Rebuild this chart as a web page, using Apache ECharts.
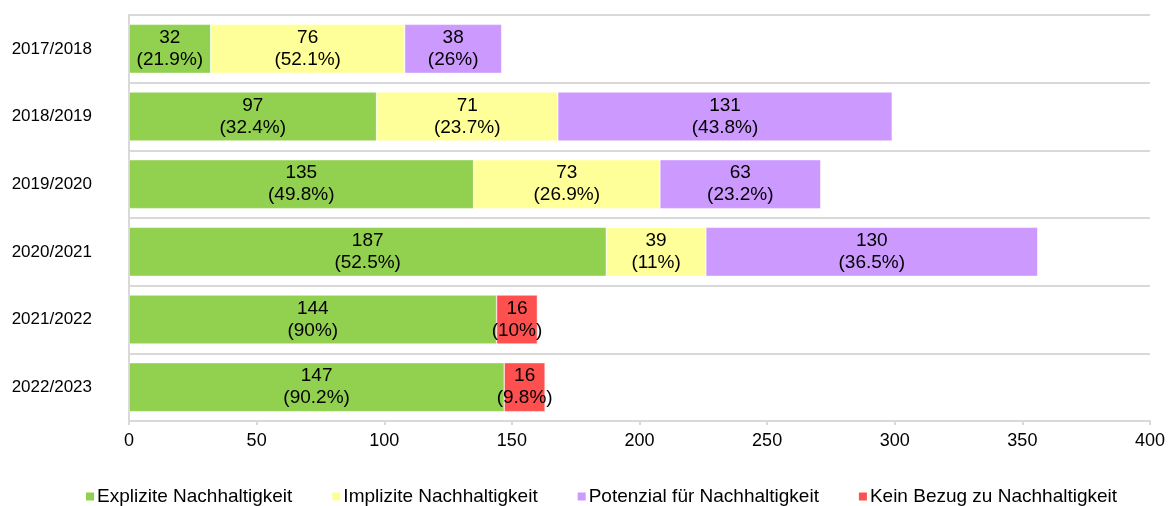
<!DOCTYPE html>
<html>
<head>
<meta charset="utf-8">
<script src="https://cdn.jsdelivr.net/npm/echarts@6/dist/echarts.min.js"></script>
<style>
  html, body { margin: 0; padding: 0; background: #fff; }
  #chart { width: 1169px; height: 506px; }
</style>
</head>
<body>
<div id="chart"></div>
<script>
// Schuljahre (von oben nach unten)
var years = ['2017/2018', '2018/2019', '2019/2020', '2020/2021', '2021/2022', '2022/2023'];

var seriesNames = [
    'Explizite Nachhaltigkeit',
    'Implizite Nachhaltigkeit',
    'Potenzial für Nachhaltigkeit',
    'Kein Bezug zu Nachhaltigkeit'
];

var explizit  = [32, 97, 135, 187, 144, 147];
var implizit  = [76, 71, 73, 39, null, null];
var potenzial = [38, 131, 63, 130, null, null];
var keinBezug = [null, null, null, null, 16, 16];

var colors = ['#92d050', '#ffff99', '#cc99ff', '#ff5050'];

var xTicks = [0, 50, 100, 150, 200, 250, 300, 350, 400];

var allValues = [explizit, implizit, potenzial, keinBezug];

// Summe je Jahr fuer die Prozentwerte
var totals = years.map(function(y, i) {
    var s = 0;
    allValues.forEach(function(arr) { s += arr[i] || 0; });
    return s;
});

function pctLabel(params) {
    var pct = Math.round(params.value / totals[params.dataIndex] * 1000) / 10;
    return params.value + '\n(' + pct + '%)';
}

var chart = echarts.init(document.getElementById('chart'));

var series = allValues.map(function(arr, k) {
    return {
        name: seriesNames[k],
        type: 'bar',
        stack: 'total',
        barWidth: 49,
        data: arr,
        itemStyle: {
            color: colors[k],
            borderColor: '#ffffff',
            borderWidth: 0.5
        },
        label: {
            show: true,
            position: 'inside',
            formatter: pctLabel,
            color: '#000',
            fontFamily: 'Liberation Sans, Arial',
            fontSize: 19,
            lineHeight: 22
        }
    };
});

var option = {
    animation: false,
    backgroundColor: '#fff',
    color: colors,
    grid: {
        left: 129,
        right: 19,
        top: 15,
        bottom: 85
    },
    legend: {
        left: 79,
        top: 482,
        itemWidth: 10,
        itemHeight: 10,
        itemGap: 38,
        icon: 'rect',
        textStyle: {
            color: '#000',
            fontFamily: 'Liberation Sans, Arial',
            fontSize: 19,
            padding: [0, 0, 0, -3]
        },
        data: seriesNames
    },
    xAxis: {
        type: 'value',
        min: xTicks[0],
        max: xTicks[xTicks.length - 1],
        interval: 50,
        splitLine: { show: false },
        axisLine: { show: true, lineStyle: { color: '#d9d9d9', width: 2 } },
        axisTick: { show: true, length: 4, lineStyle: { color: '#d9d9d9', width: 2 } },
        axisLabel: {
            color: '#000',
            fontFamily: 'Liberation Sans, Arial',
            fontSize: 18,
            margin: 11
        }
    },
    yAxis: {
        type: 'category',
        inverse: true,
        data: years,
        axisLine: { show: true, lineStyle: { color: '#d9d9d9', width: 2 } },
        axisTick: { show: false },
        splitLine: { show: true, lineStyle: { color: '#d9d9d9', width: 2 } },
        axisLabel: {
            color: '#000',
            fontFamily: 'Liberation Sans, Arial',
            fontSize: 17,
            margin: 37
        }
    },
    series: series
};

chart.setOption(option);
</script>
</body>
</html>
